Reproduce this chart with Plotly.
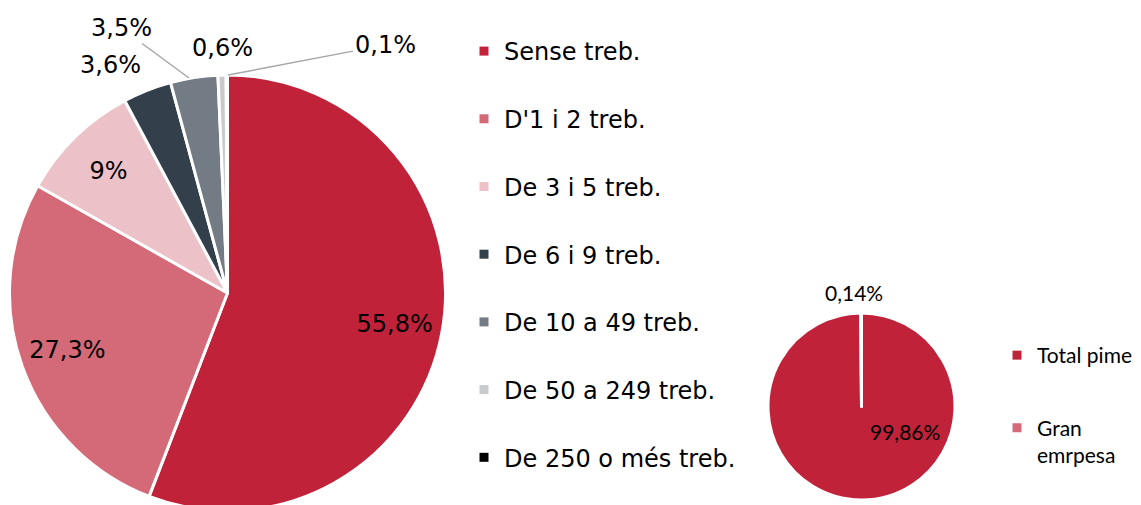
import plotly.graph_objects as go

# Big pie data
size_labels = ["Sense treb.", "D'1 i 2 treb.", "De 3 i 5 treb.", "De 6 i 9 treb.",
               "De 10 a 49 treb.", "De 50 a 249 treb.", "De 250 o més treb."]
size_values = [55.8, 27.3, 9.0, 3.6, 3.5, 0.6, 0.1]
size_text = ["55,8%", "27,3%", "9%", "3,6%", "3,5%", "0,6%", "0,1%"]
size_colors = ["#C0223A", "#D46A78", "#ECC1C7", "#333F4A", "#737B84", "#C8CBCE", "#000000"]

# Small pie data
type_labels = ["Total pime", "Gran emrpesa"]
type_values = [99.86, 0.14]
type_text = ["99,86%", "0,14%"]
type_colors = ["#C0223A", "#D46A78"]

# the page body has an 8px margin; lay out in window pixels and convert
OFF = 8
WF, HF = 1133, 505


def px(sx):
    return (sx - OFF) / WF


def py(sy):
    return 1 - (sy - OFF) / HF


BIG_FONT = "DejaVu Sans, Verdana, sans-serif"
SMALL_FONT = "Lato, Calibri, sans-serif"

big_dom = dict(x=[px(9.5), px(445.5)], y=[py(511), py(75)])
small_dom = dict(x=[px(768), px(955)], y=[py(500), py(313)])

fig = go.Figure()

# big pie: slices
fig.add_trace(go.Pie(
    labels=size_labels, values=size_values, textinfo="none",
    sort=False, direction="clockwise", rotation=0,
    marker=dict(colors=size_colors, line=dict(color="white", width=3)),
    domain=big_dom, showlegend=False, hoverinfo="label+percent",
))
# big pie: inside labels of the large slices (transparent ring places them outward)
inside_text = [t if v >= 5 else "" for t, v in zip(size_text, size_values)]
fig.add_trace(go.Pie(
    labels=size_labels, values=size_values, text=inside_text, textinfo="text",
    sort=False, direction="clockwise", rotation=0, hole=0.56,
    marker=dict(colors=["rgba(0,0,0,0)"] * len(size_values), line=dict(width=0)),
    textposition="inside", insidetextorientation="horizontal",
    textfont=dict(family=BIG_FONT, size=24, color="black"),
    domain=big_dom, showlegend=False, hoverinfo="skip",
))

# small pie
fig.add_trace(go.Pie(
    labels=type_labels, values=type_values, textinfo="none",
    sort=False, direction="clockwise", rotation=0,
    marker=dict(colors=type_colors, line=dict(color="white", width=3)),
    domain=small_dom, showlegend=False, hoverinfo="label+percent",
))

# legend entries (one group per category so the gap between items can be set)
for lab, col in zip(size_labels, size_colors):
    fig.add_trace(go.Scatter(
        x=[None], y=[None], mode="markers", name=lab, legendgroup=lab,
        marker=dict(symbol="square", size=9, color=col), legend="legend",
        hoverinfo="skip",
    ))
for lab, col in zip(type_labels, type_colors):
    name = lab if lab == "Total pime" else " <br>" + lab.replace(" ", "<br>")
    fig.add_trace(go.Scatter(
        x=[None], y=[None], mode="markers", name=name, legendgroup=lab,
        marker=dict(symbol="square", size=9, color=col), legend="legend2",
        hoverinfo="skip",
    ))

# data labels placed like the reference, leader lines where it has them
big_font = dict(family=BIG_FONT, size=24, color="black")
small_font = dict(family=SMALL_FONT, size=21, color="black")
annotations = [
    dict(x=px(110), y=py(65), text=size_text[3], showarrow=False, font=big_font),
    dict(x=px(189), y=py(78), ax=-68, ay=-50, text=size_text[4], showarrow=True,
         arrowhead=0, arrowwidth=1.5, arrowcolor="#A6A6A6", standoff=0, font=big_font),
    dict(x=px(222), y=py(48), text=size_text[5], showarrow=False, font=big_font),
    dict(x=px(228), y=py(75), ax=157, ay=-30, text=size_text[6], showarrow=True,
         arrowhead=0, arrowwidth=1.5, arrowcolor="#A6A6A6", standoff=0, font=big_font),
    dict(x=px(905), y=py(431), text=type_text[0], showarrow=False, font=small_font),
    dict(x=px(854), y=py(292), text=type_text[1], showarrow=False, font=small_font),
]
for a in annotations:
    a.update(xref="paper", yref="paper", xanchor="center", yanchor="middle")

fig.update_layout(
    width=WF, height=HF,
    margin=dict(l=0, r=0, t=0, b=0, autoexpand=False),
    paper_bgcolor="white", plot_bgcolor="white",
    xaxis=dict(visible=False), yaxis=dict(visible=False),
    annotations=annotations,
    legend=dict(
        x=px(464), y=py(29), xanchor="left", yanchor="top",
        font=big_font, tracegroupgap=33.5, bgcolor="rgba(0,0,0,0)", itemclick=False,
    ),
    legend2=dict(
        x=px(997), y=py(335), xanchor="left", yanchor="top",
        font=small_font, tracegroupgap=15, bgcolor="rgba(0,0,0,0)", itemclick=False,
    ),
)

fig.write_html("out.html")
